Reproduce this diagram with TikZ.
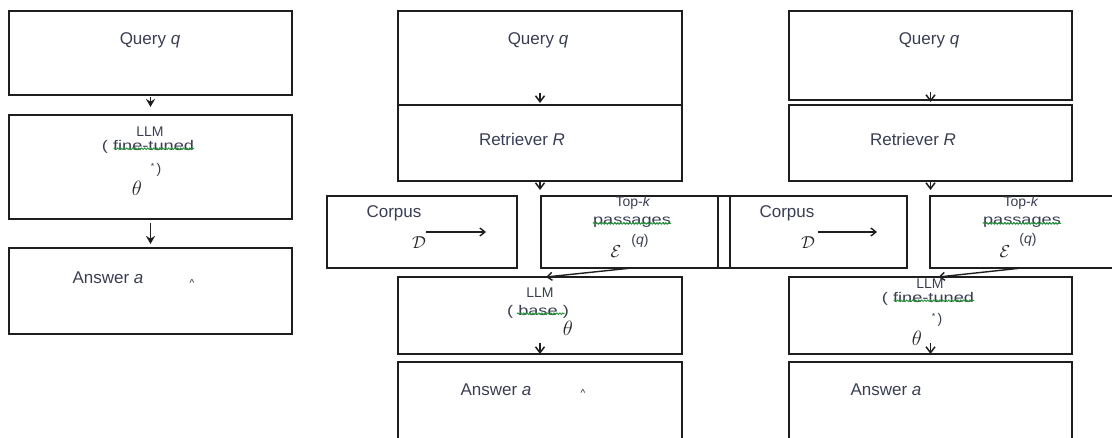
\documentclass[tikz,border=0pt]{standalone}
\usepackage{fontspec}
\usepackage{graphicx}
\setmainfont{Liberation Sans}
\usetikzlibrary{arrows.meta,decorations.pathmorphing,calc}
\definecolor{txt}{RGB}{58,62,82}
\definecolor{edge}{RGB}{30,30,30}
\definecolor{spell}{RGB}{40,150,60}
\tikzset{
  boxst/.style={draw=edge,line width=1.6pt,inner sep=0pt,outer sep=0pt,anchor=north west,rectangle},
  lab/.style={text=txt,font=\fontsize{17}{17}\selectfont,inner sep=0pt},
  lab14/.style={text=txt,font=\fontsize{14}{14}\selectfont,inner sep=0pt},
  sym/.style={text=black!85,inner sep=0pt},
  spellst/.style={draw=spell,line width=0.9pt,decorate,decoration={snake,amplitude=0.8pt,segment length=3pt}},
  tipA/.style={draw=edge,line width=1.5pt,-{Stealth[length=8pt,width=9pt]}},
  tipY/.style={draw=edge,line width=1.5pt,-{Straight Barb[length=6pt,width=9pt]}},
  tipD/.style={draw=edge,line width=1.4pt,-{Straight Barb[length=5pt,width=8pt]}},
}
\newcommand\stretchx[1]{\scalebox{1.3}[1]{#1}}
\begin{document}
\begin{tikzpicture}[x=1pt,y=-1pt]
\useasboundingbox (0,0) rectangle (1112,438);
\clip (0,0) rectangle (1112,438);

% ---------- column 1: LLM alone ----------
\node[boxst,minimum width=283pt,minimum height=84pt]  (q1) at (9,11)  {};
\node[boxst,minimum width=283pt,minimum height=104pt] (l1) at (9,115) {};
\node[boxst,minimum width=283pt,minimum height=86pt]  (a1) at (9,248) {};

\node[lab] (qt1) at (150,40) {Query \textit{q}};
\node[lab14] (lt1) at (150,132) {LLM};
\node[lab14] (ft1) at (148,147) {\stretchx{( fine-tuned}};
\node[lab14] (st1) at (156,170) {\raisebox{4pt}{\fontsize{9}{9}\selectfont *}\,)};
\node[sym] (th1) at (137,188) {\fontsize{20}{20}\selectfont$\theta$};
\node[lab] (at1) at (108,278) {Answer \textit{a}};
\node[sym] (hat1) at (192,283) {\fontsize{10}{10}\selectfont\^{}};
\draw[spellst] ($(ft1.south west)+(12,-5)$) -- ($(ft1.south east)+(0,-5)$);

\draw[tipA] ($(q1.south)+(0,2)$) -- ($(l1.north)+(0,-8)$);
\draw[tipA] ($(l1.south)+(0,4)$) -- ($(a1.north)+(0,-4)$);

% ---------- column 2: retrieval with base LLM ----------
\node[boxst,minimum width=284pt,minimum height=94pt] (q2) at (398,11)  {};
\node[boxst,minimum width=284pt,minimum height=76pt] (r2) at (398,105) {};
\node[boxst,minimum width=190pt,minimum height=72pt] (c2) at (327,196) {};
\node[boxst,minimum width=189pt,minimum height=72pt] (t2) at (541,196) {};
\node[boxst,minimum width=284pt,minimum height=77pt] (l2) at (398,277) {};
\node[boxst,minimum width=284pt,minimum height=90pt] (a2) at (398,362) {};

\node[lab] (qt2) at (538,40) {Query \textit{q}};
\node[lab] (rt2) at (522,139) {Retriever \textit{R}};
\node[lab] (ct2) at (394,213) {Corpus};
\node[sym] (D2) at (419,243) {\fontsize{19}{19}\selectfont$\mathcal{D}$};
\node[lab14] (tk2) at (633,203) {Top-\textit{k}};
\node[lab14] (ps2) at (632,222) {\stretchx{passages}};
\node[lab14] (qq2) at (640,241) {(\textit{q})};
\node[sym] (E2) at (616,252) {\fontsize{19}{19}\selectfont$\mathcal{E}$};
\node[lab14] (lt2) at (540,293) {LLM};
\node[lab14] (bt2) at (538,312) {\stretchx{( base )}};
\node[sym] (th2) at (568,328) {\fontsize{20}{20}\selectfont$\theta$};
\node[lab] (at2) at (496,390) {Answer \textit{a}};
\node[sym] (hat2) at (583,393) {\fontsize{10}{10}\selectfont\^{}};
\draw[spellst] ($(ps2.south west)+(0,-4)$) -- ($(ps2.south east)+(0,-4)$);
\draw[spellst] ($(bt2.south west)+(10,-5)$) -- ($(bt2.south east)+(-4,-5)$);

\draw[tipY] ($(q2.south)+(0,-12)$) -- ($(q2.south)+(0,-2)$);
\draw[tipY] ($(r2.south)+(0,0)$) -- ($(r2.south)+(0,9)$);
\draw[tipD] ($(c2.north west)+(99,36)$) -- ($(c2.north west)+(159,36)$);
\draw[tipD] ($(t2.south west)+(91,0)$) -- ($(l2.north)+(6,0)$);
\draw[tipY] ($(l2.south)+(0,-11)$) -- ($(l2.south)+(0,0)$);

% ---------- column 3: retrieval with fine-tuned LLM ----------
\node[boxst,minimum width=283pt,minimum height=89pt] (q3) at (789,11)  {};
\node[boxst,minimum width=283pt,minimum height=76pt] (r3) at (789,105) {};
\node[boxst,minimum width=189pt,minimum height=72pt] (c3) at (718,196) {};
\node[boxst,minimum width=200pt,minimum height=72pt] (t3) at (930,196) {};
\node[boxst,minimum width=283pt,minimum height=77pt] (l3) at (789,277) {};
\node[boxst,minimum width=283pt,minimum height=90pt] (a3) at (789,362) {};

\node[lab] (qt3) at (929,40) {Query \textit{q}};
\node[lab] (rt3) at (913,139) {Retriever \textit{R}};
\node[lab] (ct3) at (787,213) {Corpus};
\node[sym] (D3) at (808,243) {\fontsize{19}{19}\selectfont$\mathcal{D}$};
\node[lab14] (tk3) at (1021,203) {Top-\textit{k}};
\node[lab14] (ps3) at (1022,222) {\stretchx{passages}};
\node[lab14] (qq3) at (1028,240) {(\textit{q})};
\node[sym] (E3) at (1005,252) {\fontsize{19}{19}\selectfont$\mathcal{E}$};
\node[lab14] (lt3) at (930,284) {LLM};
\node[lab14] (ft3) at (928,299) {\stretchx{( fine-tuned}};
\node[lab14] (st3) at (937,320) {\raisebox{4pt}{\fontsize{9}{9}\selectfont *}\,)};
\node[sym] (th3) at (917,338) {\fontsize{20}{20}\selectfont$\theta$};
\node[lab] (at3) at (886,390) {Answer \textit{a}};
\draw[spellst] ($(ps3.south west)+(0,-4)$) -- ($(ps3.south east)+(0,-4)$);
\draw[spellst] ($(ft3.south west)+(12,-5)$) -- ($(ft3.south east)+(0,-5)$);

\draw[tipY] ($(q3.south)+(0,-8)$) -- ($(q3.south)+(0,2)$);
\draw[tipY] ($(r3.south)+(0,0)$) -- ($(r3.south)+(0,9)$);
\draw[tipD] ($(c3.north west)+(100,36)$) -- ($(c3.north west)+(159,36)$);
\draw[tipD] ($(t3.south west)+(92,0)$) -- ($(l3.north)+(8,0)$);
\draw[tipY] ($(l3.south)+(0,-11)$) -- ($(l3.south)+(0,0)$);
\end{tikzpicture}
\end{document}
